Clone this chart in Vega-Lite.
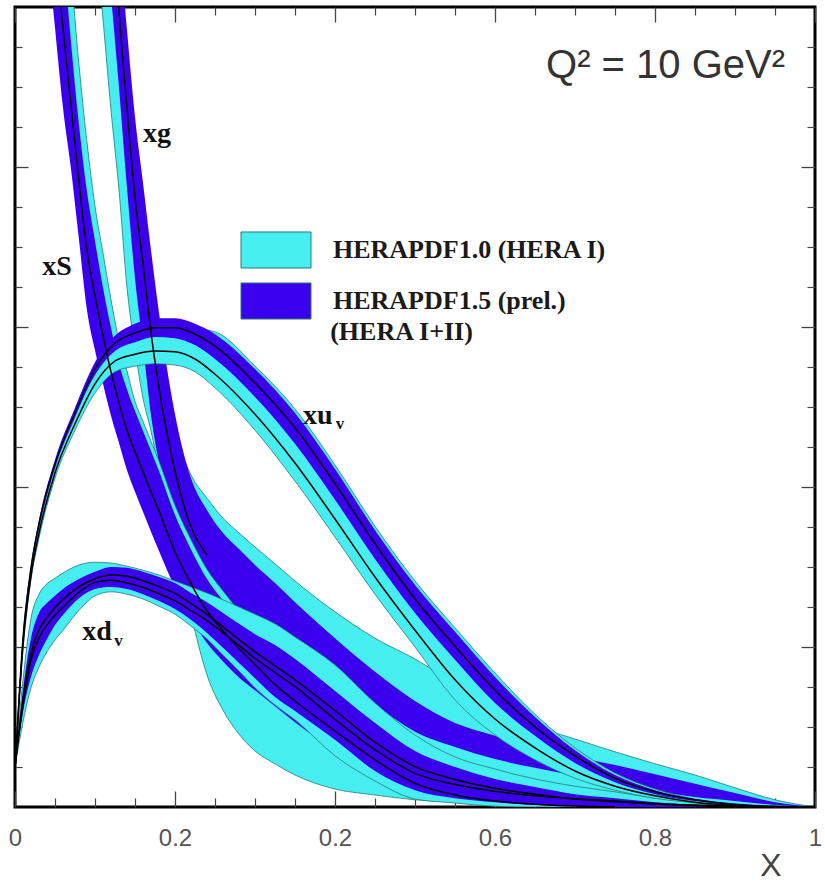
{
  "$schema": "https://vega.github.io/schema/vega-lite/v6.json",
  "width": 800,
  "height": 800,
  "autosize": {"type": "none"},
  "padding": {"left": 15, "top": 7, "right": 10, "bottom": 75},
  "background": "white",
  "config": {
    "view": {"stroke": "#000000", "strokeWidth": 3},
    "axis": {"grid": false, "domain": false},
    "font": "Liberation Sans"
  },
  "datasets": {
    "bands": [
      {"c":"xg","p":"HERAPDF1.0 (HERA I)","x":0.1,"hi":1.34,"lo":1.101},
      {"c":"xg","p":"HERAPDF1.0 (HERA I)","x":0.11,"hi":1.21,"lo":0.985},
      {"c":"xg","p":"HERAPDF1.0 (HERA I)","x":0.12,"hi":1.081,"lo":0.871},
      {"c":"xg","p":"HERAPDF1.0 (HERA I)","x":0.13,"hi":0.951,"lo":0.771},
      {"c":"xg","p":"HERAPDF1.0 (HERA I)","x":0.14,"hi":0.821,"lo":0.649},
      {"c":"xg","p":"HERAPDF1.0 (HERA I)","x":0.15,"hi":0.73,"lo":0.5725},
      {"c":"xg","p":"HERAPDF1.0 (HERA I)","x":0.16,"hi":0.655,"lo":0.511},
      {"c":"xg","p":"HERAPDF1.0 (HERA I)","x":0.17,"hi":0.59,"lo":0.47},
      {"c":"xg","p":"HERAPDF1.0 (HERA I)","x":0.18,"hi":0.544,"lo":0.42},
      {"c":"xg","p":"HERAPDF1.0 (HERA I)","x":0.2,"hi":0.4675,"lo":0.334},
      {"c":"xg","p":"HERAPDF1.0 (HERA I)","x":0.22,"hi":0.415,"lo":0.241},
      {"c":"xg","p":"HERAPDF1.0 (HERA I)","x":0.24,"hi":0.386,"lo":0.165},
      {"c":"xg","p":"HERAPDF1.0 (HERA I)","x":0.26,"hi":0.361,"lo":0.121},
      {"c":"xg","p":"HERAPDF1.0 (HERA I)","x":0.28,"hi":0.3425,"lo":0.091},
      {"c":"xg","p":"HERAPDF1.0 (HERA I)","x":0.3,"hi":0.325,"lo":0.07},
      {"c":"xg","p":"HERAPDF1.0 (HERA I)","x":0.325,"hi":0.304,"lo":0.054},
      {"c":"xg","p":"HERAPDF1.0 (HERA I)","x":0.35,"hi":0.2825,"lo":0.04},
      {"c":"xg","p":"HERAPDF1.0 (HERA I)","x":0.4,"hi":0.244,"lo":0.0225},
      {"c":"xg","p":"HERAPDF1.0 (HERA I)","x":0.45,"hi":0.211,"lo":0.015},
      {"c":"xg","p":"HERAPDF1.0 (HERA I)","x":0.5,"hi":0.185,"lo":0.009},
      {"c":"xg","p":"HERAPDF1.0 (HERA I)","x":0.55,"hi":0.154,"lo":0.006},
      {"c":"xg","p":"HERAPDF1.0 (HERA I)","x":0.6,"hi":0.124,"lo":0.004},
      {"c":"xg","p":"HERAPDF1.0 (HERA I)","x":0.65,"hi":0.101,"lo":0.0025},
      {"c":"xg","p":"HERAPDF1.0 (HERA I)","x":0.7,"hi":0.085,"lo":0.001},
      {"c":"xg","p":"HERAPDF1.0 (HERA I)","x":0.75,"hi":0.069,"lo":0.001},
      {"c":"xg","p":"HERAPDF1.0 (HERA I)","x":0.8,"hi":0.054,"lo":0},
      {"c":"xg","p":"HERAPDF1.0 (HERA I)","x":0.85,"hi":0.04,"lo":0},
      {"c":"xg","p":"HERAPDF1.0 (HERA I)","x":0.9,"hi":0.024,"lo":0},
      {"c":"xg","p":"HERAPDF1.0 (HERA I)","x":0.95,"hi":0.009,"lo":0},
      {"c":"xg","p":"HERAPDF1.0 (HERA I)","x":1,"hi":0,"lo":0},

      {"c":"xg","p":"HERAPDF1.5 (prel.) (HERA I+II)","x":0.11,"hi":1.32,"lo":1.13,"mid":1.225},
      {"c":"xg","p":"HERAPDF1.5 (prel.) (HERA I+II)","x":0.12,"hi":1.204,"lo":1.015,"mid":1.11},
      {"c":"xg","p":"HERAPDF1.5 (prel.) (HERA I+II)","x":0.13,"hi":1.0875,"lo":0.899,"mid":0.993},
      {"c":"xg","p":"HERAPDF1.5 (prel.) (HERA I+II)","x":0.14,"hi":0.971,"lo":0.774,"mid":0.8725},
      {"c":"xg","p":"HERAPDF1.5 (prel.) (HERA I+II)","x":0.15,"hi":0.8625,"lo":0.661,"mid":0.762},
      {"c":"xg","p":"HERAPDF1.5 (prel.) (HERA I+II)","x":0.16,"hi":0.78,"lo":0.5775,"mid":0.679},
      {"c":"xg","p":"HERAPDF1.5 (prel.) (HERA I+II)","x":0.17,"hi":0.696,"lo":0.49,"mid":0.593},
      {"c":"xg","p":"HERAPDF1.5 (prel.) (HERA I+II)","x":0.18,"hi":0.6175,"lo":0.43,"mid":0.524},
      {"c":"xg","p":"HERAPDF1.5 (prel.) (HERA I+II)","x":0.2,"hi":0.491,"lo":0.35,"mid":0.42},
      {"c":"xg","p":"HERAPDF1.5 (prel.) (HERA I+II)","x":0.22,"hi":0.411,"lo":0.3,"mid":0.35},
      {"c":"xg","p":"HERAPDF1.5 (prel.) (HERA I+II)","x":0.24,"hi":0.371,"lo":0.27,"mid":0.315},
      {"c":"xg","p":"HERAPDF1.5 (prel.) (HERA I+II)","x":0.26,"hi":0.3425,"lo":0.25},
      {"c":"xg","p":"HERAPDF1.5 (prel.) (HERA I+II)","x":0.28,"hi":0.3225,"lo":0.2325},
      {"c":"xg","p":"HERAPDF1.5 (prel.) (HERA I+II)","x":0.3,"hi":0.3025,"lo":0.219},
      {"c":"xg","p":"HERAPDF1.5 (prel.) (HERA I+II)","x":0.325,"hi":0.28,"lo":0.21},
      {"c":"xg","p":"HERAPDF1.5 (prel.) (HERA I+II)","x":0.35,"hi":0.256,"lo":0.2025},
      {"c":"xg","p":"HERAPDF1.5 (prel.) (HERA I+II)","x":0.4,"hi":0.211,"lo":0.175},
      {"c":"xg","p":"HERAPDF1.5 (prel.) (HERA I+II)","x":0.45,"hi":0.169,"lo":0.129},
      {"c":"xg","p":"HERAPDF1.5 (prel.) (HERA I+II)","x":0.5,"hi":0.1325,"lo":0.094},
      {"c":"xg","p":"HERAPDF1.5 (prel.) (HERA I+II)","x":0.55,"hi":0.105,"lo":0.075},
      {"c":"xg","p":"HERAPDF1.5 (prel.) (HERA I+II)","x":0.6,"hi":0.089,"lo":0.06},
      {"c":"xg","p":"HERAPDF1.5 (prel.) (HERA I+II)","x":0.65,"hi":0.074,"lo":0.049},
      {"c":"xg","p":"HERAPDF1.5 (prel.) (HERA I+II)","x":0.7,"hi":0.0625,"lo":0.039},
      {"c":"xg","p":"HERAPDF1.5 (prel.) (HERA I+II)","x":0.75,"hi":0.0525,"lo":0.03},
      {"c":"xg","p":"HERAPDF1.5 (prel.) (HERA I+II)","x":0.8,"hi":0.041,"lo":0.02},
      {"c":"xg","p":"HERAPDF1.5 (prel.) (HERA I+II)","x":0.85,"hi":0.029,"lo":0.0125},
      {"c":"xg","p":"HERAPDF1.5 (prel.) (HERA I+II)","x":0.9,"hi":0.0175,"lo":0.0075},
      {"c":"xg","p":"HERAPDF1.5 (prel.) (HERA I+II)","x":0.95,"hi":0.006,"lo":0.0025},
      {"c":"xg","p":"HERAPDF1.5 (prel.) (HERA I+II)","x":1,"hi":0,"lo":0},

      {"c":"xS","p":"HERAPDF1.0 (HERA I)","x":0.04,"hi":1.39,"lo":1.1425},
      {"c":"xS","p":"HERAPDF1.0 (HERA I)","x":0.05,"hi":1.276,"lo":1.039},
      {"c":"xS","p":"HERAPDF1.0 (HERA I)","x":0.06,"hi":1.16,"lo":0.935},
      {"c":"xS","p":"HERAPDF1.0 (HERA I)","x":0.07,"hi":1.044,"lo":0.845},
      {"c":"xS","p":"HERAPDF1.0 (HERA I)","x":0.08,"hi":0.9275,"lo":0.769},
      {"c":"xS","p":"HERAPDF1.0 (HERA I)","x":0.09,"hi":0.831,"lo":0.671},
      {"c":"xS","p":"HERAPDF1.0 (HERA I)","x":0.1,"hi":0.751,"lo":0.615},
      {"c":"xS","p":"HERAPDF1.0 (HERA I)","x":0.11,"hi":0.6925,"lo":0.554},
      {"c":"xS","p":"HERAPDF1.0 (HERA I)","x":0.12,"hi":0.634,"lo":0.514},
      {"c":"xS","p":"HERAPDF1.0 (HERA I)","x":0.13,"hi":0.5825,"lo":0.475},
      {"c":"xS","p":"HERAPDF1.0 (HERA I)","x":0.14,"hi":0.545,"lo":0.4425},
      {"c":"xS","p":"HERAPDF1.0 (HERA I)","x":0.15,"hi":0.507,"lo":0.409},
      {"c":"xS","p":"HERAPDF1.0 (HERA I)","x":0.16,"hi":0.482,"lo":0.384},
      {"c":"xS","p":"HERAPDF1.0 (HERA I)","x":0.17,"hi":0.457,"lo":0.359},
      {"c":"xS","p":"HERAPDF1.0 (HERA I)","x":0.18,"hi":0.432,"lo":0.335},
      {"c":"xS","p":"HERAPDF1.0 (HERA I)","x":0.2,"hi":0.377,"lo":0.2875},
      {"c":"xS","p":"HERAPDF1.0 (HERA I)","x":0.22,"hi":0.334,"lo":0.244},
      {"c":"xS","p":"HERAPDF1.0 (HERA I)","x":0.24,"hi":0.297,"lo":0.2175},
      {"c":"xS","p":"HERAPDF1.0 (HERA I)","x":0.26,"hi":0.27,"lo":0.195},
      {"c":"xS","p":"HERAPDF1.0 (HERA I)","x":0.28,"hi":0.245,"lo":0.174},
      {"c":"xS","p":"HERAPDF1.0 (HERA I)","x":0.3,"hi":0.222,"lo":0.156},
      {"c":"xS","p":"HERAPDF1.0 (HERA I)","x":0.325,"hi":0.192,"lo":0.136},
      {"c":"xS","p":"HERAPDF1.0 (HERA I)","x":0.35,"hi":0.17,"lo":0.116},
      {"c":"xS","p":"HERAPDF1.0 (HERA I)","x":0.4,"hi":0.13,"lo":0.08},
      {"c":"xS","p":"HERAPDF1.0 (HERA I)","x":0.45,"hi":0.088,"lo":0.047},
      {"c":"xS","p":"HERAPDF1.0 (HERA I)","x":0.5,"hi":0.053,"lo":0.02},
      {"c":"xS","p":"HERAPDF1.0 (HERA I)","x":0.55,"hi":0.03,"lo":0.009},
      {"c":"xS","p":"HERAPDF1.0 (HERA I)","x":0.6,"hi":0.016,"lo":0.004},
      {"c":"xS","p":"HERAPDF1.0 (HERA I)","x":0.65,"hi":0.008,"lo":0.001},
      {"c":"xS","p":"HERAPDF1.0 (HERA I)","x":0.7,"hi":0.003,"lo":0},
      {"c":"xS","p":"HERAPDF1.0 (HERA I)","x":0.75,"hi":0,"lo":0},

      {"c":"xS","p":"HERAPDF1.5 (prel.) (HERA I+II)","x":0.04,"hi":1.305,"lo":1.0775,"mid":1.191},
      {"c":"xS","p":"HERAPDF1.5 (prel.) (HERA I+II)","x":0.05,"hi":1.189,"lo":0.974,"mid":1.0815},
      {"c":"xS","p":"HERAPDF1.5 (prel.) (HERA I+II)","x":0.06,"hi":1.0725,"lo":0.874,"mid":0.973},
      {"c":"xS","p":"HERAPDF1.5 (prel.) (HERA I+II)","x":0.07,"hi":0.956,"lo":0.7975,"mid":0.877},
      {"c":"xS","p":"HERAPDF1.5 (prel.) (HERA I+II)","x":0.08,"hi":0.8525,"lo":0.709,"mid":0.781},
      {"c":"xS","p":"HERAPDF1.5 (prel.) (HERA I+II)","x":0.09,"hi":0.769,"lo":0.621,"mid":0.695},
      {"c":"xS","p":"HERAPDF1.5 (prel.) (HERA I+II)","x":0.1,"hi":0.7075,"lo":0.571,"mid":0.639},
      {"c":"xS","p":"HERAPDF1.5 (prel.) (HERA I+II)","x":0.11,"hi":0.649,"lo":0.529,"mid":0.589},
      {"c":"xS","p":"HERAPDF1.5 (prel.) (HERA I+II)","x":0.12,"hi":0.599,"lo":0.489,"mid":0.544},
      {"c":"xS","p":"HERAPDF1.5 (prel.) (HERA I+II)","x":0.13,"hi":0.554,"lo":0.455,"mid":0.5045},
      {"c":"xS","p":"HERAPDF1.5 (prel.) (HERA I+II)","x":0.14,"hi":0.522,"lo":0.421,"mid":0.471},
      {"c":"xS","p":"HERAPDF1.5 (prel.) (HERA I+II)","x":0.15,"hi":0.495,"lo":0.394,"mid":0.444},
      {"c":"xS","p":"HERAPDF1.5 (prel.) (HERA I+II)","x":0.16,"hi":0.47,"lo":0.369,"mid":0.419},
      {"c":"xS","p":"HERAPDF1.5 (prel.) (HERA I+II)","x":0.17,"hi":0.445,"lo":0.344,"mid":0.394},
      {"c":"xS","p":"HERAPDF1.5 (prel.) (HERA I+II)","x":0.18,"hi":0.42,"lo":0.32,"mid":0.37},
      {"c":"xS","p":"HERAPDF1.5 (prel.) (HERA I+II)","x":0.2,"hi":0.365,"lo":0.274,"mid":0.319},
      {"c":"xS","p":"HERAPDF1.5 (prel.) (HERA I+II)","x":0.22,"hi":0.322,"lo":0.236,"mid":0.279},
      {"c":"xS","p":"HERAPDF1.5 (prel.) (HERA I+II)","x":0.24,"hi":0.285,"lo":0.205,"mid":0.245},
      {"c":"xS","p":"HERAPDF1.5 (prel.) (HERA I+II)","x":0.26,"hi":0.258,"lo":0.182,"mid":0.22},
      {"c":"xS","p":"HERAPDF1.5 (prel.) (HERA I+II)","x":0.28,"hi":0.233,"lo":0.162,"mid":0.198},
      {"c":"xS","p":"HERAPDF1.5 (prel.) (HERA I+II)","x":0.3,"hi":0.21,"lo":0.146,"mid":0.178},
      {"c":"xS","p":"HERAPDF1.5 (prel.) (HERA I+II)","x":0.325,"hi":0.18,"lo":0.126,"mid":0.153},
      {"c":"xS","p":"HERAPDF1.5 (prel.) (HERA I+II)","x":0.35,"hi":0.159,"lo":0.106,"mid":0.1325},
      {"c":"xS","p":"HERAPDF1.5 (prel.) (HERA I+II)","x":0.4,"hi":0.119,"lo":0.071,"mid":0.095},
      {"c":"xS","p":"HERAPDF1.5 (prel.) (HERA I+II)","x":0.45,"hi":0.0775,"lo":0.04,"mid":0.059},
      {"c":"xS","p":"HERAPDF1.5 (prel.) (HERA I+II)","x":0.5,"hi":0.044,"lo":0.015,"mid":0.0295},
      {"c":"xS","p":"HERAPDF1.5 (prel.) (HERA I+II)","x":0.55,"hi":0.024,"lo":0.006,"mid":0.015},
      {"c":"xS","p":"HERAPDF1.5 (prel.) (HERA I+II)","x":0.6,"hi":0.0125,"lo":0.0025,"mid":0.0075},
      {"c":"xS","p":"HERAPDF1.5 (prel.) (HERA I+II)","x":0.65,"hi":0.006,"lo":0.001,"mid":0.0035},
      {"c":"xS","p":"HERAPDF1.5 (prel.) (HERA I+II)","x":0.7,"hi":0.0025,"lo":0,"mid":0.0012},
      {"c":"xS","p":"HERAPDF1.5 (prel.) (HERA I+II)","x":0.75,"hi":0,"lo":0,"mid":0},

      {"c":"xd_v","p":"HERAPDF1.0 (HERA I)","x":0,"hi":0.05,"lo":0.05,"mid":0.05},
      {"c":"xd_v","p":"HERAPDF1.0 (HERA I)","x":0.01,"hi":0.15875,"lo":0.10625,"mid":0.127},
      {"c":"xd_v","p":"HERAPDF1.0 (HERA I)","x":0.02,"hi":0.236,"lo":0.149,"mid":0.184},
      {"c":"xd_v","p":"HERAPDF1.0 (HERA I)","x":0.03,"hi":0.266,"lo":0.175,"mid":0.2114},
      {"c":"xd_v","p":"HERAPDF1.0 (HERA I)","x":0.04,"hi":0.279,"lo":0.194,"mid":0.228},
      {"c":"xd_v","p":"HERAPDF1.0 (HERA I)","x":0.05,"hi":0.286,"lo":0.209,"mid":0.2398},
      {"c":"xd_v","p":"HERAPDF1.0 (HERA I)","x":0.06,"hi":0.2925,"lo":0.221,"mid":0.2496},
      {"c":"xd_v","p":"HERAPDF1.0 (HERA I)","x":0.08,"hi":0.3025,"lo":0.246,"mid":0.2686},
      {"c":"xd_v","p":"HERAPDF1.0 (HERA I)","x":0.1,"hi":0.306,"lo":0.264,"mid":0.2808},
      {"c":"xd_v","p":"HERAPDF1.0 (HERA I)","x":0.12,"hi":0.305,"lo":0.269,"mid":0.2834},
      {"c":"xd_v","p":"HERAPDF1.0 (HERA I)","x":0.14,"hi":0.301,"lo":0.266,"mid":0.28},
      {"c":"xd_v","p":"HERAPDF1.0 (HERA I)","x":0.16,"hi":0.296,"lo":0.26,"mid":0.2744},
      {"c":"xd_v","p":"HERAPDF1.0 (HERA I)","x":0.18,"hi":0.29,"lo":0.251,"mid":0.2666},
      {"c":"xd_v","p":"HERAPDF1.0 (HERA I)","x":0.2,"hi":0.2825,"lo":0.241,"mid":0.2576},
      {"c":"xd_v","p":"HERAPDF1.0 (HERA I)","x":0.22,"hi":0.275,"lo":0.226,"mid":0.2456},
      {"c":"xd_v","p":"HERAPDF1.0 (HERA I)","x":0.24,"hi":0.2675,"lo":0.21,"mid":0.233},
      {"c":"xd_v","p":"HERAPDF1.0 (HERA I)","x":0.26,"hi":0.259,"lo":0.19,"mid":0.2176},
      {"c":"xd_v","p":"HERAPDF1.0 (HERA I)","x":0.28,"hi":0.25,"lo":0.17,"mid":0.202},
      {"c":"xd_v","p":"HERAPDF1.0 (HERA I)","x":0.3,"hi":0.241,"lo":0.149,"mid":0.1858},
      {"c":"xd_v","p":"HERAPDF1.0 (HERA I)","x":0.325,"hi":0.229,"lo":0.1275,"mid":0.1681},
      {"c":"xd_v","p":"HERAPDF1.0 (HERA I)","x":0.35,"hi":0.2125,"lo":0.109,"mid":0.1504},
      {"c":"xd_v","p":"HERAPDF1.0 (HERA I)","x":0.4,"hi":0.1775,"lo":0.064,"mid":0.1094},
      {"c":"xd_v","p":"HERAPDF1.0 (HERA I)","x":0.45,"hi":0.13,"lo":0.0325,"mid":0.0715},
      {"c":"xd_v","p":"HERAPDF1.0 (HERA I)","x":0.5,"hi":0.09,"lo":0.01,"mid":0.042},
      {"c":"xd_v","p":"HERAPDF1.0 (HERA I)","x":0.55,"hi":0.0625,"lo":0.005,"mid":0.028},
      {"c":"xd_v","p":"HERAPDF1.0 (HERA I)","x":0.6,"hi":0.0475,"lo":0.001,"mid":0.0196},
      {"c":"xd_v","p":"HERAPDF1.0 (HERA I)","x":0.65,"hi":0.035,"lo":0,"mid":0.014},
      {"c":"xd_v","p":"HERAPDF1.0 (HERA I)","x":0.7,"hi":0.026,"lo":0,"mid":0.0104},
      {"c":"xd_v","p":"HERAPDF1.0 (HERA I)","x":0.75,"hi":0.019,"lo":0,"mid":0.0076},
      {"c":"xd_v","p":"HERAPDF1.0 (HERA I)","x":0.8,"hi":0.011,"lo":0,"mid":0.0044},
      {"c":"xd_v","p":"HERAPDF1.0 (HERA I)","x":0.85,"hi":0.006,"lo":0,"mid":0.0024},
      {"c":"xd_v","p":"HERAPDF1.0 (HERA I)","x":0.9,"hi":0.0025,"lo":0,"mid":0.001},
      {"c":"xd_v","p":"HERAPDF1.0 (HERA I)","x":0.95,"hi":0.001,"lo":0,"mid":0.0004},
      {"c":"xd_v","p":"HERAPDF1.0 (HERA I)","x":1,"hi":0,"lo":0,"mid":0},

      {"c":"xd_v","p":"HERAPDF1.5 (prel.) (HERA I+II)","x":0,"hi":0.05,"lo":0.05,"mid":0.05},
      {"c":"xd_v","p":"HERAPDF1.5 (prel.) (HERA I+II)","x":0.01,"hi":0.14625,"lo":0.11875,"mid":0.135},
      {"c":"xd_v","p":"HERAPDF1.5 (prel.) (HERA I+II)","x":0.02,"hi":0.211,"lo":0.1625,"mid":0.1916},
      {"c":"xd_v","p":"HERAPDF1.5 (prel.) (HERA I+II)","x":0.03,"hi":0.2425,"lo":0.19,"mid":0.2215},
      {"c":"xd_v","p":"HERAPDF1.5 (prel.) (HERA I+II)","x":0.04,"hi":0.255,"lo":0.21,"mid":0.237},
      {"c":"xd_v","p":"HERAPDF1.5 (prel.) (HERA I+II)","x":0.05,"hi":0.264,"lo":0.2275,"mid":0.2494},
      {"c":"xd_v","p":"HERAPDF1.5 (prel.) (HERA I+II)","x":0.06,"hi":0.2725,"lo":0.24,"mid":0.2595},
      {"c":"xd_v","p":"HERAPDF1.5 (prel.) (HERA I+II)","x":0.08,"hi":0.285,"lo":0.261,"mid":0.2754},
      {"c":"xd_v","p":"HERAPDF1.5 (prel.) (HERA I+II)","x":0.1,"hi":0.294,"lo":0.2725,"mid":0.2854},
      {"c":"xd_v","p":"HERAPDF1.5 (prel.) (HERA I+II)","x":0.12,"hi":0.3,"lo":0.275,"mid":0.29},
      {"c":"xd_v","p":"HERAPDF1.5 (prel.) (HERA I+II)","x":0.14,"hi":0.299,"lo":0.2725,"mid":0.2884},
      {"c":"xd_v","p":"HERAPDF1.5 (prel.) (HERA I+II)","x":0.16,"hi":0.294,"lo":0.266,"mid":0.2828},
      {"c":"xd_v","p":"HERAPDF1.5 (prel.) (HERA I+II)","x":0.18,"hi":0.2875,"lo":0.2575,"mid":0.2755},
      {"c":"xd_v","p":"HERAPDF1.5 (prel.) (HERA I+II)","x":0.2,"hi":0.28,"lo":0.2475,"mid":0.267},
      {"c":"xd_v","p":"HERAPDF1.5 (prel.) (HERA I+II)","x":0.22,"hi":0.2675,"lo":0.234,"mid":0.2541},
      {"c":"xd_v","p":"HERAPDF1.5 (prel.) (HERA I+II)","x":0.24,"hi":0.256,"lo":0.2175,"mid":0.2406},
      {"c":"xd_v","p":"HERAPDF1.5 (prel.) (HERA I+II)","x":0.26,"hi":0.2425,"lo":0.199,"mid":0.2251},
      {"c":"xd_v","p":"HERAPDF1.5 (prel.) (HERA I+II)","x":0.28,"hi":0.229,"lo":0.18,"mid":0.2094},
      {"c":"xd_v","p":"HERAPDF1.5 (prel.) (HERA I+II)","x":0.3,"hi":0.216,"lo":0.161,"mid":0.194},
      {"c":"xd_v","p":"HERAPDF1.5 (prel.) (HERA I+II)","x":0.325,"hi":0.2025,"lo":0.1375,"mid":0.1765},
      {"c":"xd_v","p":"HERAPDF1.5 (prel.) (HERA I+II)","x":0.35,"hi":0.185,"lo":0.12,"mid":0.159},
      {"c":"xd_v","p":"HERAPDF1.5 (prel.) (HERA I+II)","x":0.4,"hi":0.145,"lo":0.084,"mid":0.1206},
      {"c":"xd_v","p":"HERAPDF1.5 (prel.) (HERA I+II)","x":0.45,"hi":0.105,"lo":0.045,"mid":0.081},
      {"c":"xd_v","p":"HERAPDF1.5 (prel.) (HERA I+II)","x":0.5,"hi":0.07,"lo":0.021,"mid":0.0504},
      {"c":"xd_v","p":"HERAPDF1.5 (prel.) (HERA I+II)","x":0.55,"hi":0.05,"lo":0.011,"mid":0.0344},
      {"c":"xd_v","p":"HERAPDF1.5 (prel.) (HERA I+II)","x":0.6,"hi":0.035,"lo":0.006,"mid":0.0234},
      {"c":"xd_v","p":"HERAPDF1.5 (prel.) (HERA I+II)","x":0.65,"hi":0.025,"lo":0.0025,"mid":0.016},
      {"c":"xd_v","p":"HERAPDF1.5 (prel.) (HERA I+II)","x":0.7,"hi":0.016,"lo":0.001,"mid":0.01},
      {"c":"xd_v","p":"HERAPDF1.5 (prel.) (HERA I+II)","x":0.75,"hi":0.011,"lo":0,"mid":0.0066},
      {"c":"xd_v","p":"HERAPDF1.5 (prel.) (HERA I+II)","x":0.8,"hi":0.006,"lo":0,"mid":0.0036},
      {"c":"xd_v","p":"HERAPDF1.5 (prel.) (HERA I+II)","x":0.85,"hi":0.0025,"lo":0,"mid":0.0015},
      {"c":"xd_v","p":"HERAPDF1.5 (prel.) (HERA I+II)","x":0.9,"hi":0.001,"lo":0,"mid":0.0006},
      {"c":"xd_v","p":"HERAPDF1.5 (prel.) (HERA I+II)","x":0.95,"hi":0,"lo":0,"mid":0},

      {"c":"xu_v","p":"HERAPDF1.0 (HERA I)","x":0,"hi":0.046,"lo":0.046,"mid":0.046},
      {"c":"xu_v","p":"HERAPDF1.0 (HERA I)","x":0.01,"hi":0.2075,"lo":0.196,"mid":0.2025},
      {"c":"xu_v","p":"HERAPDF1.0 (HERA I)","x":0.02,"hi":0.295,"lo":0.284,"mid":0.289},
      {"c":"xu_v","p":"HERAPDF1.0 (HERA I)","x":0.03,"hi":0.349,"lo":0.336,"mid":0.3425},
      {"c":"xu_v","p":"HERAPDF1.0 (HERA I)","x":0.05,"hi":0.424,"lo":0.411,"mid":0.4175},
      {"c":"xu_v","p":"HERAPDF1.0 (HERA I)","x":0.075,"hi":0.4875,"lo":0.471,"mid":0.479},
      {"c":"xu_v","p":"HERAPDF1.0 (HERA I)","x":0.1,"hi":0.546,"lo":0.5175,"mid":0.529},
      {"c":"xu_v","p":"HERAPDF1.0 (HERA I)","x":0.125,"hi":0.579,"lo":0.544,"mid":0.5575},
      {"c":"xu_v","p":"HERAPDF1.0 (HERA I)","x":0.15,"hi":0.594,"lo":0.551,"mid":0.566},
      {"c":"xu_v","p":"HERAPDF1.0 (HERA I)","x":0.175,"hi":0.601,"lo":0.554,"mid":0.57},
      {"c":"xu_v","p":"HERAPDF1.0 (HERA I)","x":0.2,"hi":0.601,"lo":0.5525,"mid":0.569},
      {"c":"xu_v","p":"HERAPDF1.0 (HERA I)","x":0.225,"hi":0.598,"lo":0.544,"mid":0.56},
      {"c":"xu_v","p":"HERAPDF1.0 (HERA I)","x":0.25,"hi":0.594,"lo":0.524,"mid":0.541},
      {"c":"xu_v","p":"HERAPDF1.0 (HERA I)","x":0.3,"hi":0.551,"lo":0.471,"mid":0.491},
      {"c":"xu_v","p":"HERAPDF1.0 (HERA I)","x":0.35,"hi":0.4975,"lo":0.4075,"mid":0.43},
      {"c":"xu_v","p":"HERAPDF1.0 (HERA I)","x":0.4,"hi":0.4275,"lo":0.3375,"mid":0.36},
      {"c":"xu_v","p":"HERAPDF1.0 (HERA I)","x":0.45,"hi":0.351,"lo":0.266,"mid":0.2875},
      {"c":"xu_v","p":"HERAPDF1.0 (HERA I)","x":0.5,"hi":0.2825,"lo":0.2,"mid":0.221},
      {"c":"xu_v","p":"HERAPDF1.0 (HERA I)","x":0.55,"hi":0.224,"lo":0.134,"mid":0.159},
      {"c":"xu_v","p":"HERAPDF1.0 (HERA I)","x":0.6,"hi":0.1675,"lo":0.09,"mid":0.11},
      {"c":"xu_v","p":"HERAPDF1.0 (HERA I)","x":0.65,"hi":0.116,"lo":0.059,"mid":0.074},
      {"c":"xu_v","p":"HERAPDF1.0 (HERA I)","x":0.7,"hi":0.074,"lo":0.036,"mid":0.045},
      {"c":"xu_v","p":"HERAPDF1.0 (HERA I)","x":0.75,"hi":0.0425,"lo":0.021,"mid":0.026},
      {"c":"xu_v","p":"HERAPDF1.0 (HERA I)","x":0.8,"hi":0.0225,"lo":0.011,"mid":0.014},
      {"c":"xu_v","p":"HERAPDF1.0 (HERA I)","x":0.85,"hi":0.01,"lo":0.005,"mid":0.006},
      {"c":"xu_v","p":"HERAPDF1.0 (HERA I)","x":0.9,"hi":0.004,"lo":0.001,"mid":0.002},
      {"c":"xu_v","p":"HERAPDF1.0 (HERA I)","x":0.95,"hi":0.001,"lo":0,"mid":0.0005},
      {"c":"xu_v","p":"HERAPDF1.0 (HERA I)","x":1,"hi":0,"lo":0,"mid":0},

      {"c":"xu_v","p":"HERAPDF1.5 (prel.) (HERA I+II)","x":0,"hi":0.046,"lo":0.046,"mid":0.046},
      {"c":"xu_v","p":"HERAPDF1.5 (prel.) (HERA I+II)","x":0.01,"hi":0.215,"lo":0.2075,"mid":0.211},
      {"c":"xu_v","p":"HERAPDF1.5 (prel.) (HERA I+II)","x":0.02,"hi":0.3025,"lo":0.295,"mid":0.299},
      {"c":"xu_v","p":"HERAPDF1.5 (prel.) (HERA I+II)","x":0.03,"hi":0.359,"lo":0.349,"mid":0.354},
      {"c":"xu_v","p":"HERAPDF1.5 (prel.) (HERA I+II)","x":0.05,"hi":0.434,"lo":0.424,"mid":0.429},
      {"c":"xu_v","p":"HERAPDF1.5 (prel.) (HERA I+II)","x":0.075,"hi":0.499,"lo":0.4875,"mid":0.4925},
      {"c":"xu_v","p":"HERAPDF1.5 (prel.) (HERA I+II)","x":0.1,"hi":0.556,"lo":0.54,"mid":0.5475},
      {"c":"xu_v","p":"HERAPDF1.5 (prel.) (HERA I+II)","x":0.125,"hi":0.589,"lo":0.57,"mid":0.58},
      {"c":"xu_v","p":"HERAPDF1.5 (prel.) (HERA I+II)","x":0.15,"hi":0.604,"lo":0.581,"mid":0.5925},
      {"c":"xu_v","p":"HERAPDF1.5 (prel.) (HERA I+II)","x":0.175,"hi":0.611,"lo":0.5875,"mid":0.599},
      {"c":"xu_v","p":"HERAPDF1.5 (prel.) (HERA I+II)","x":0.2,"hi":0.611,"lo":0.586,"mid":0.599},
      {"c":"xu_v","p":"HERAPDF1.5 (prel.) (HERA I+II)","x":0.225,"hi":0.604,"lo":0.5775,"mid":0.591},
      {"c":"xu_v","p":"HERAPDF1.5 (prel.) (HERA I+II)","x":0.25,"hi":0.591,"lo":0.56,"mid":0.576},
      {"c":"xu_v","p":"HERAPDF1.5 (prel.) (HERA I+II)","x":0.3,"hi":0.5475,"lo":0.5125,"mid":0.53},
      {"c":"xu_v","p":"HERAPDF1.5 (prel.) (HERA I+II)","x":0.35,"hi":0.4925,"lo":0.454,"mid":0.474},
      {"c":"xu_v","p":"HERAPDF1.5 (prel.) (HERA I+II)","x":0.4,"hi":0.4225,"lo":0.384,"mid":0.404},
      {"c":"xu_v","p":"HERAPDF1.5 (prel.) (HERA I+II)","x":0.45,"hi":0.346,"lo":0.31,"mid":0.329},
      {"c":"xu_v","p":"HERAPDF1.5 (prel.) (HERA I+II)","x":0.5,"hi":0.2775,"lo":0.2425,"mid":0.26},
      {"c":"xu_v","p":"HERAPDF1.5 (prel.) (HERA I+II)","x":0.55,"hi":0.219,"lo":0.184,"mid":0.201},
      {"c":"xu_v","p":"HERAPDF1.5 (prel.) (HERA I+II)","x":0.6,"hi":0.1625,"lo":0.13,"mid":0.146},
      {"c":"xu_v","p":"HERAPDF1.5 (prel.) (HERA I+II)","x":0.65,"hi":0.1125,"lo":0.089,"mid":0.1},
      {"c":"xu_v","p":"HERAPDF1.5 (prel.) (HERA I+II)","x":0.7,"hi":0.071,"lo":0.055,"mid":0.064},
      {"c":"xu_v","p":"HERAPDF1.5 (prel.) (HERA I+II)","x":0.75,"hi":0.04,"lo":0.031,"mid":0.036},
      {"c":"xu_v","p":"HERAPDF1.5 (prel.) (HERA I+II)","x":0.8,"hi":0.021,"lo":0.016,"mid":0.019},
      {"c":"xu_v","p":"HERAPDF1.5 (prel.) (HERA I+II)","x":0.85,"hi":0.01,"lo":0.0075,"mid":0.009},
      {"c":"xu_v","p":"HERAPDF1.5 (prel.) (HERA I+II)","x":0.9,"hi":0.004,"lo":0.0025,"mid":0.003},
      {"c":"xu_v","p":"HERAPDF1.5 (prel.) (HERA I+II)","x":0.95,"hi":0.001,"lo":0,"mid":0.0005},
      {"c":"xu_v","p":"HERAPDF1.5 (prel.) (HERA I+II)","x":1,"hi":0,"lo":0,"mid":0}
    ]
  },
  "resolve": {"axis": {"x": "independent", "y": "independent"}},
  "layer": [
    {
      "data": {"name": "bands"},
      "encoding": {
        "x": {"field": "x", "type": "quantitative", "scale": {"domain": [0, 1], "nice": false, "zero": false},
          "axis": {"orient": "bottom", "values": [0, 0.2, 0.4, 0.6, 0.8, 1], "format": "~g",
            "labelExpr": "datum.value == 0.4 ? '0.2' : datum.label",
            "ticks": false, "domain": false, "grid": false, "labelPadding": 19,
            "labelFont": "Liberation Sans", "labelFontSize": 24, "labelColor": "#555555",
            "labelFlush": false, "labelOverlap": false, "labelBound": false,
            "title": "X", "titleFont": "Liberation Sans", "titleFontSize": 32, "titleFontWeight": "normal",
            "titleColor": "#444444", "titleX": 766, "titleY": 68, "titleAlign": "right", "titleBaseline": "alphabetic"}},
        "y": {"field": "hi", "type": "quantitative", "scale": {"domain": [0, 1], "nice": false},
          "axis": {"orient": "left", "values": [0.2, 0.4, 0.6, 0.8], "labels": false, "domain": false, "grid": false,
            "tickSize": -13, "tickColor": "#444444", "tickWidth": 1.3, "title": null}},
        "y2": {"field": "lo"},
        "color": {"field": "p", "type": "nominal",
          "scale": {"domain": ["HERAPDF1.0 (HERA I)", "HERAPDF1.5 (prel.) (HERA I+II)"], "range": ["#46EEF0", "#3A00EE"]},
          "legend": {"orient": "none", "legendX": 243, "legendY": 225, "title": null, "padding": 0,
            "symbolType": "M-2,-1.03H2V1.03H-2Z", "symbolSize": 1225,
            "symbolStrokeColor": "#2a7a7a", "symbolStrokeWidth": 1, "symbolOpacity": 1,
            "labelFont": "Liberation Serif", "labelFontWeight": "bold", "labelFontSize": 26,
            "labelColor": "#1a1a1a", "labelOffset": 39, "labelLimit": 500, "rowPadding": 9,
            "labelExpr": "datum.label == 'HERAPDF1.5 (prel.) (HERA I+II)' ? 'HERAPDF1.5 (prel.)' : datum.label"}}
      },
      "layer": [
        {"transform": [{"filter": "datum.c == 'xg' && datum.p == 'HERAPDF1.0 (HERA I)'"}],
         "mark": {"type": "area", "clip": true, "interpolate": "monotone", "stroke": "#2a7a7a", "strokeWidth": 0.8}},
        {"transform": [{"filter": "datum.c == 'xg' && datum.p != 'HERAPDF1.0 (HERA I)'"}],
         "mark": {"type": "area", "clip": true, "interpolate": "monotone"}},
        {"transform": [{"filter": "datum.c == 'xS' && datum.p == 'HERAPDF1.0 (HERA I)'"}],
         "mark": {"type": "area", "clip": true, "interpolate": "monotone", "stroke": "#2a7a7a", "strokeWidth": 0.8}},
        {"transform": [{"filter": "datum.c == 'xS' && datum.p != 'HERAPDF1.0 (HERA I)'"}],
         "mark": {"type": "area", "clip": true, "interpolate": "monotone"}},
        {"transform": [{"filter": "datum.c == 'xd_v' && datum.p == 'HERAPDF1.0 (HERA I)'"}],
         "mark": {"type": "area", "clip": true, "interpolate": "monotone", "stroke": "#2a7a7a", "strokeWidth": 0.8}},
        {"transform": [{"filter": "datum.c == 'xd_v' && datum.p != 'HERAPDF1.0 (HERA I)'"}],
         "mark": {"type": "area", "clip": true, "interpolate": "monotone"}},
        {"transform": [{"filter": "datum.c == 'xu_v' && datum.p == 'HERAPDF1.0 (HERA I)'"}],
         "mark": {"type": "area", "clip": true, "interpolate": "monotone", "stroke": "#2a7a7a", "strokeWidth": 0.8}},
        {"transform": [{"filter": "datum.c == 'xu_v' && datum.p != 'HERAPDF1.0 (HERA I)'"}],
         "mark": {"type": "area", "clip": true, "interpolate": "monotone"}}
      ]
    },
    {
      "data": {"name": "bands"},
      "transform": [{"filter": "isValid(datum.mid)"}],
      "mark": {"type": "line", "clip": true, "interpolate": "monotone", "color": "#000000", "strokeWidth": 1.5},
      "encoding": {
        "x": {"field": "x", "type": "quantitative", "scale": {"domain": [0, 1], "nice": false, "zero": false},
          "axis": {"orient": "bottom", "values": [0, 0.2, 0.4, 0.6, 0.8, 1], "labels": false, "domain": false, "grid": false,
            "tickSize": -16, "tickColor": "#444444", "tickWidth": 1.3, "title": null}},
        "y": {"field": "mid", "type": "quantitative", "scale": {"domain": [0, 1], "nice": false},
          "axis": {"orient": "left", "values": [0.05, 0.1, 0.15, 0.25, 0.3, 0.35, 0.45, 0.5, 0.55, 0.65, 0.7, 0.75, 0.85, 0.9, 0.95],
            "labels": false, "domain": false, "grid": false, "tickSize": -7, "tickColor": "#444444", "tickWidth": 1.2, "title": null}},
        "detail": [{"field": "c"}, {"field": "p"}]
      }
    },
    {
      "data": {"values": [
        {"t": "xg", "x": 0.16, "y": 0.83125},
        {"t": "xS", "x": 0.034, "y": 0.665},
        {"t": "xu", "x": 0.36, "y": 0.479},
        {"t": "xd", "x": 0.084, "y": 0.209}
      ]},
      "mark": {"type": "text", "align": "left", "baseline": "alphabetic", "font": "Liberation Serif", "fontWeight": "bold", "fontSize": 28, "color": "#111111"},
      "encoding": {
        "x": {"field": "x", "type": "quantitative", "scale": {"domain": [0, 1], "nice": false, "zero": false},
          "axis": {"orient": "bottom", "values": [0.05, 0.1, 0.15, 0.25, 0.3, 0.35, 0.45, 0.5, 0.55, 0.65, 0.7, 0.75, 0.85, 0.9, 0.95],
            "labels": false, "domain": false, "grid": false, "tickSize": -9, "tickColor": "#444444", "tickWidth": 1.2, "title": null}},
        "y": {"field": "y", "type": "quantitative", "scale": {"domain": [0, 1], "nice": false},
          "axis": {"orient": "right", "values": [0.2, 0.4, 0.6, 0.8], "labels": false, "domain": false, "grid": false,
            "tickSize": -14, "tickColor": "#444444", "tickWidth": 1.3, "title": null}},
        "text": {"field": "t"}
      }
    },
    {
      "data": {"values": [
        {"t": "v", "x": 0.401, "y": 0.4725},
        {"t": "v", "x": 0.124, "y": 0.201}
      ]},
      "mark": {"type": "text", "align": "left", "baseline": "alphabetic", "font": "Liberation Serif", "fontWeight": "bold", "fontSize": 17, "color": "#111111"},
      "encoding": {
        "x": {"field": "x", "type": "quantitative", "scale": {"domain": [0, 1], "nice": false, "zero": false},
          "axis": {"orient": "top", "values": [0, 0.2, 0.4, 0.6, 0.8, 1], "labels": false, "domain": false, "grid": false,
            "tickSize": -15, "tickColor": "#444444", "tickWidth": 1.3, "title": null}},
        "y": {"field": "y", "type": "quantitative", "scale": {"domain": [0, 1], "nice": false},
          "axis": {"orient": "right", "values": [0.05, 0.1, 0.15, 0.25, 0.3, 0.35, 0.45, 0.5, 0.55, 0.65, 0.7, 0.75, 0.85, 0.9, 0.95],
            "labels": false, "domain": false, "grid": false, "tickSize": -8, "tickColor": "#444444", "tickWidth": 1.2, "title": null}},
        "text": {"field": "t"}
      }
    },
    {
      "data": {"values": [{"t": "(HERA I+II)", "x": 0.394, "y": 0.584}]},
      "mark": {"type": "text", "align": "left", "baseline": "alphabetic", "font": "Liberation Serif", "fontWeight": "bold", "fontSize": 26, "color": "#1a1a1a"},
      "encoding": {
        "x": {"field": "x", "type": "quantitative", "scale": {"domain": [0, 1], "nice": false, "zero": false}, "axis": null},
        "y": {"field": "y", "type": "quantitative", "scale": {"domain": [0, 1], "nice": false}, "axis": null},
        "text": {"field": "t"}
      }
    },
    {
      "data": {"values": [{"t": "Q² = 10 GeV²", "x": 0.9625, "y": 0.911}]},
      "mark": {"type": "text", "align": "right", "baseline": "alphabetic", "font": "Liberation Sans", "fontSize": 40, "color": "#333333"},
      "encoding": {
        "x": {"field": "x", "type": "quantitative", "scale": {"domain": [0, 1], "nice": false, "zero": false},
          "axis": {"orient": "top", "values": [0.05, 0.1, 0.15, 0.25, 0.3, 0.35, 0.45, 0.5, 0.55, 0.65, 0.7, 0.75, 0.85, 0.9, 0.95],
            "labels": false, "domain": false, "grid": false, "tickSize": -8, "tickColor": "#444444", "tickWidth": 1.2, "title": null}},
        "y": {"field": "y", "type": "quantitative", "scale": {"domain": [0, 1], "nice": false}, "axis": null},
        "text": {"field": "t"}
      }
    }
  ]
}
